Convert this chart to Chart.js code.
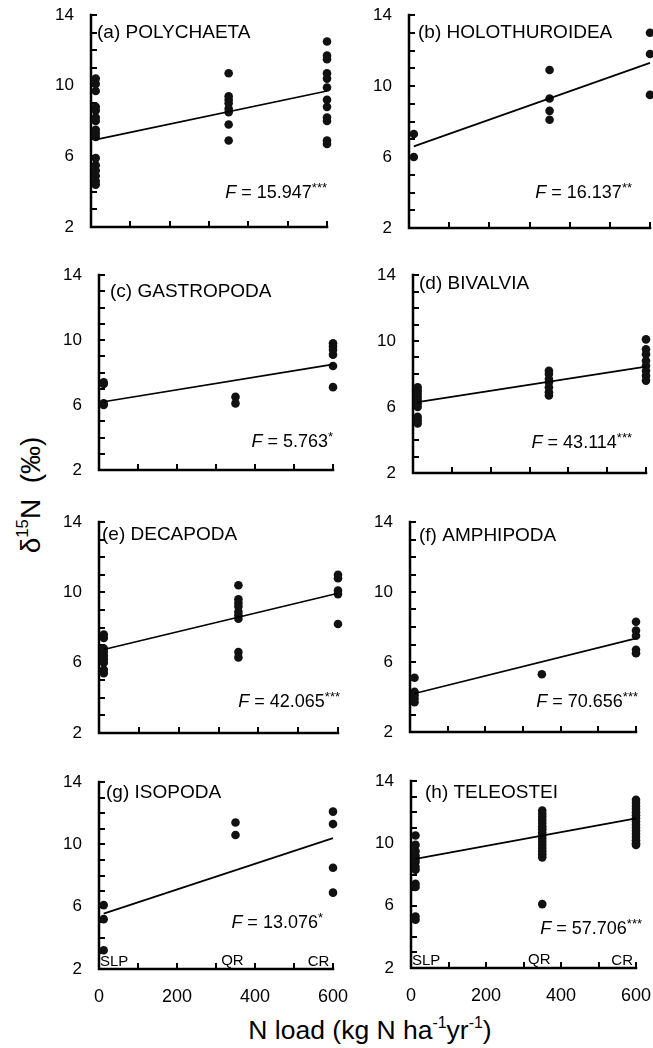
<!DOCTYPE html>
<html>
<head>
<meta charset="utf-8">
<script src="https://cdn.jsdelivr.net/npm/chart.js@4.4.0/dist/chart.umd.min.js"></script>
<style>
  html, body { margin: 0; padding: 0; background: #fff; overflow: hidden; }
  body { width: 653px; height: 1048px; position: relative; font-family: "Liberation Sans", Arial, sans-serif; color: #000; }
  canvas.panel { position: absolute; }
  .axis-title { position: absolute; white-space: nowrap; line-height: 1; transform: translate(-50%, -50%); }
  .axis-title sup { font-size: 0.6em; vertical-align: 0.7em; line-height: 0; }
  #ytitle { left: 31px; top: 495px; font-size: 28px; transform: translate(-50%, -50%) rotate(-90deg); }
  #xtitle { left: 370px; top: 1030px; font-size: 26.5px; }
</style>
</head>
<body>
<div id="ytitle" class="axis-title">&delta;<sup>15</sup>N&nbsp;&nbsp;(&permil;)</div>
<div id="xtitle" class="axis-title">N load (kg N ha<sup>-1</sup>yr<sup>-1</sup>)</div>
<script>
// sites along the x axis (N load, kg N / ha / yr)
const siteLoad = [12, 350, 600];
const siteNames = ["SLP", "QR", "CR"];
const fitLoad = [12, 600];

const taxa = ["(a) POLYCHAETA", "(b) HOLOTHUROIDEA", "(c) GASTROPODA", "(d) BIVALVIA",
  "(e) DECAPODA", "(f) AMPHIPODA", "(g) ISOPODA", "(h) TELEOSTEI"];
const fValues = ["15.947", "16.137", "5.763", "43.114", "42.065", "70.656", "13.076", "57.706"];
const fStars = ["***", "**", "*", "***", "***", "***", "*", "***"];

// d15N values per site
const polySLP = [10.4, 10.1, 9.7, 8.8, 8.6, 8.2, 8.0, 7.5, 7.3, 7.1, 5.9, 5.5, 5.2, 4.9, 4.6, 4.4];
const polyQR = [10.7, 9.4, 9.2, 9.0, 8.7, 8.5, 7.8, 6.9];
const polyCR = [12.5, 11.7, 11.5, 10.7, 10.4, 9.9, 9.2, 8.8, 8.2, 8.0, 6.9, 6.7];
const polyFit = [6.95, 9.7];

const holoSLP = [7.3, 6.0];
const holoQR = [10.9, 9.3, 8.6, 8.1];
const holoCR = [13.0, 11.8, 9.5];
const holoFit = [6.6, 11.3];

const gastSLP = [7.4, 7.3, 6.1, 6.0];
const gastQR = [6.5, 6.1];
const gastCR = [9.8, 9.6, 9.4, 9.1, 8.4, 7.1];
const gastFit = [6.2, 8.5];

const bivSLP = [7.2, 7.0, 6.8, 6.6, 6.4, 6.2, 6.0, 5.4, 5.2, 5.0];
const bivQR = [8.2, 8.0, 7.7, 7.5, 7.2, 6.9, 6.7];
const bivCR = [10.1, 9.5, 9.2, 8.8, 8.5, 8.2, 7.9, 7.6];
const bivFit = [6.3, 8.45];

const decSLP = [7.6, 7.4, 6.8, 6.6, 6.4, 6.2, 6.0, 5.6, 5.4];
const decQR = [10.4, 9.6, 9.4, 9.2, 8.9, 8.7, 8.5, 6.6, 6.3];
const decCR = [11.0, 10.8, 10.1, 9.9, 8.2];
const decFit = [6.75, 9.95];

const ampSLP = [5.1, 4.3, 4.1, 3.9, 3.7];
const ampQR = [5.3];
const ampCR = [8.3, 7.8, 7.5, 6.7, 6.5];
const ampFit = [4.2, 7.35];

const isoSLP = [6.1, 5.2, 3.2];
const isoQR = [11.4, 10.6];
const isoCR = [12.1, 11.3, 8.5, 6.9];
const isoFit = [5.55, 10.4];

const teleSLP = [10.5, 9.9, 9.5, 9.2, 9.0, 8.8, 8.5, 8.3, 7.4, 7.2, 5.3, 5.1];
const teleQR = [12.1, 11.9, 11.7, 11.5, 11.3, 11.1, 10.9, 10.7, 10.5, 10.3, 10.1, 9.9, 9.7, 9.5, 9.3, 9.1, 6.1];
const teleCR = [12.8, 12.6, 12.4, 12.2, 12.0, 11.8, 11.6, 11.4, 11.2, 11.0, 10.8, 10.6, 10.4, 10.2, 10.0, 9.9];
const teleFit = [9.0, 11.6];

const yTicks = [2, 6, 10, 14];
const xTicks = [0, 200, 400, 600];

const FONT = "'Liberation Sans', Arial, sans-serif";

// plot boxes [left, top, right, bottom] and text offsets for each panel
const panels = [
  { box: [91, 15, 327, 227], data: [polySLP, polyQR, polyCR], fit: polyFit, title: [6, 18], stat: [0, 34] },
  { box: [409, 15, 650, 228], data: [holoSLP, holoQR, holoCR], fit: holoFit, title: [9, 18], stat: [-18, 35] },
  { box: [99, 275, 333, 470], data: [gastSLP, gastQR, gastCR], fit: gastFit, title: [11, 17], stat: [0, 28] },
  { box: [413, 275, 646, 473], data: [bivSLP, bivQR, bivCR], fit: bivFit, title: [6, 9], stat: [-14, 30] },
  { box: [99, 522, 338, 733], data: [decSLP, decQR, decCR], fit: decFit, title: [3, 13], stat: [2, 31] },
  { box: [410, 522, 636, 732], data: [ampSLP, ampQR, ampCR], fit: ampFit, title: [9, 14], stat: [2, 30] },
  { box: [99, 782, 333, 969], data: [isoSLP, isoQR, isoCR], fit: isoFit, title: [7, 11], stat: [-10, 46], bottom: true },
  { box: [411, 781, 636, 968], data: [teleSLP, teleQR, teleCR], fit: teleFit, title: [14, 12], stat: [6, 39], bottom: true },
];

// room around the plot area; generous so tick label overflow never squeezes it
const PAD_L = 60;
const PAD_T = 34;
const PAD_R = 40;
const PAD_B = 34;
const TICK_LEN = 6;

// axis lines with inward tick marks, placed from the chart's own scales
const innerAxes = {
  id: "innerAxes",
  beforeDatasetsDraw(chart) {
    const { ctx, chartArea: ca, scales } = chart;
    ctx.save();
    ctx.strokeStyle = "#000";
    ctx.lineWidth = 2;
    ctx.beginPath();
    scales.x.ticks.forEach((t) => {
      const px = Math.round(scales.x.getPixelForValue(t.value));
      ctx.moveTo(px, ca.bottom);
      ctx.lineTo(px, ca.bottom - TICK_LEN);
    });
    scales.y.ticks.forEach((t) => {
      const py = Math.round(scales.y.getPixelForValue(t.value));
      ctx.moveTo(ca.left, py);
      ctx.lineTo(ca.left + TICK_LEN, py);
    });
    ctx.stroke();

    ctx.lineWidth = 2.5;
    ctx.lineCap = "square";
    ctx.beginPath();
    ctx.moveTo(ca.left, ca.top);
    ctx.lineTo(ca.left, ca.bottom);
    ctx.lineTo(ca.right, ca.bottom);
    ctx.stroke();
    ctx.restore();
  },
};

const panelText = {
  id: "panelText",
  afterDatasetsDraw(chart, args, opts) {
    const { ctx, chartArea } = chart;
    const p = opts.panel;
    ctx.save();
    ctx.fillStyle = "#000";
    ctx.textBaseline = "middle";

    // panel title
    ctx.font = `19px ${FONT}`;
    ctx.textAlign = "left";
    ctx.fillText(p.label, chartArea.left + p.title[0], chartArea.top + p.title[1]);

    // F statistic, right aligned
    const right = chartArea.right + p.stat[0];
    const y = chartArea.bottom - p.stat[1];
    ctx.font = `13px ${FONT}`;
    const starW = ctx.measureText(p.stars).width;
    ctx.font = `18px ${FONT}`;
    const restText = " = " + p.fval;
    const restW = ctx.measureText(restText).width;
    ctx.font = `italic 18px ${FONT}`;
    const fW = ctx.measureText("F").width;
    let x = right - starW - restW - fW;
    ctx.fillText("F", x, y);
    x += fW;
    ctx.font = `18px ${FONT}`;
    ctx.fillText(restText, x, y);
    x += restW;
    ctx.font = `13px ${FONT}`;
    ctx.fillText(p.stars, x, y - 5);

    // site names sit on the x axis in the bottom row
    if (p.bottom) {
      const xs = chart.scales.x;
      ctx.font = `15px ${FONT}`;
      ctx.textBaseline = "alphabetic";
      ctx.textAlign = "left";
      ctx.fillText(siteNames[0], xs.getPixelForValue(0) + 1, chartArea.bottom - 3);
      ctx.textAlign = "center";
      ctx.fillText(siteNames[1], xs.getPixelForValue(342), chartArea.bottom - 4);
      ctx.fillText(siteNames[2], xs.getPixelForValue(563), chartArea.bottom - 3);
    }
    ctx.restore();
  },
};

panels.forEach((p, i) => {
  const [L, T, R, B] = p.box;
  const xH = p.bottom ? 45 : 6;
  const padB = p.bottom ? 0 : PAD_B;
  const canvas = document.createElement("canvas");
  canvas.className = "panel";
  canvas.width = R - L + PAD_L + PAD_R;
  canvas.height = B - T + PAD_T + xH + padB;
  canvas.style.left = (L - PAD_L) + "px";
  canvas.style.top = (T - PAD_T) + "px";
  document.body.appendChild(canvas);

  const pointSets = p.data.map((vals, s) => ({
    type: "scatter",
    data: vals.map((v) => ({ x: siteLoad[s], y: v })),
    pointRadius: 4.3,
    pointHoverRadius: 4.3,
    backgroundColor: "#111",
    borderWidth: 0,
    clip: false,
  }));

  const fitSet = {
    type: "line",
    data: fitLoad.map((x, k) => ({ x, y: p.fit[k] })),
    borderColor: "#000",
    borderWidth: 1.7,
    pointRadius: 0,
    fill: false,
    clip: false,
  };

  new Chart(canvas, {
    type: "scatter",
    data: { datasets: [fitSet, ...pointSets] },
    options: {
      responsive: false,
      maintainAspectRatio: false,
      animation: false,
      events: [],
      layout: { padding: { left: 0, top: PAD_T, right: PAD_R, bottom: padB } },
      plugins: {
        legend: { display: false },
        tooltip: { enabled: false },
        panelText: {
          panel: {
            label: taxa[i],
            fval: fValues[i],
            stars: fStars[i],
            title: p.title,
            stat: p.stat,
            bottom: !!p.bottom,
          },
        },
      },
      scales: {
        x: {
          type: "linear",
          position: "bottom",
          min: 0,
          max: 600,
          grid: { display: false, drawTicks: false },
          border: { display: false },
          ticks: {
            display: !!p.bottom,
            stepSize: 100,
            autoSkip: false,
            maxRotation: 0,
            padding: 17,
            color: "#000",
            font: { size: 18, family: FONT },
            callback: (v) => (xTicks.includes(v) ? String(v) : ""),
          },
          afterFit: (scale) => { scale.height = xH; },
        },
        y: {
          type: "linear",
          position: "left",
          min: 2,
          max: 14,
          grid: { display: false, drawTicks: false },
          border: { display: false },
          ticks: {
            stepSize: 1,
            autoSkip: false,
            padding: 17,
            color: "#000",
            font: { size: 17, family: FONT },
            callback: (v) => (yTicks.includes(v) ? String(v) : ""),
          },
          afterFit: (scale) => { scale.width = PAD_L; },
        },
      },
    },
    plugins: [innerAxes, panelText],
  });
});
</script>
</body>
</html>
